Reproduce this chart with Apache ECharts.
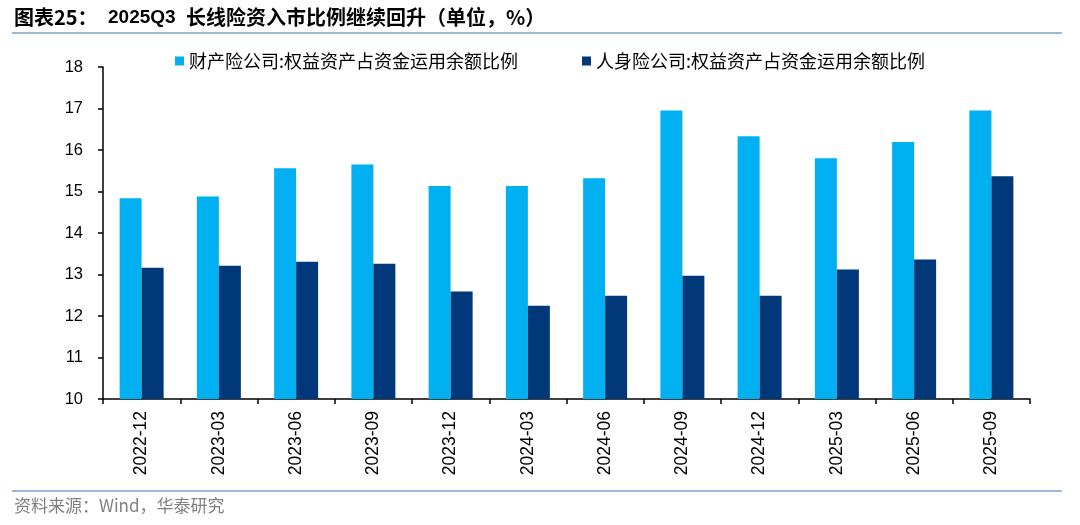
<!DOCTYPE html>
<html><head><meta charset="utf-8">
<script src="https://cdn.jsdelivr.net/npm/echarts@6/dist/echarts.min.js"></script>
<style>html,body{margin:0;padding:0;background:#fff}#c{width:1080px;height:525px}</style>
</head><body><div id="c"></div>
<script>
const categories = ['2022-12','2023-03','2023-06','2023-09','2023-12','2024-03','2024-06','2024-09','2024-12','2025-03','2025-06','2025-09'];
const propertyName = '财产险公司:权益资产占资金运用余额比例';
const lifeName = '人身险公司:权益资产占资金运用余额比例';
const propertyValues = [14.84, 14.88, 15.56, 15.65, 15.13, 15.13, 15.32, 16.95, 16.33, 15.80, 16.19, 16.95];
const lifeValues = [13.16, 13.21, 13.31, 13.26, 12.59, 12.25, 12.49, 12.97, 12.49, 13.12, 13.36, 15.37];
const yTicks = [10, 11, 12, 13, 14, 15, 16, 17, 18];

const chart = echarts.init(document.getElementById('c'));
const cjk = '"Noto Sans CJK SC", sans-serif';
const latin = '"Liberation Sans", Arial, sans-serif';
chart.setOption({
  animation: false,
  backgroundColor: '#fff',
  graphic: [
    {type: 'text', left: 14, top: 7, style: {text: '图表25：', fontFamily: cjk, fontSize: 20, fontWeight: 'bold', fill: '#000'}},
    {type: 'text', left: 108, top: 8, style: {text: '2025Q3', fontFamily: latin, fontSize: 19, fontWeight: 'bold', fill: '#000'}},
    {type: 'text', left: 186, top: 7, style: {text: '长线险资入市比例继续回升（单位，%）', fontFamily: cjk, fontSize: 20, fontWeight: 'bold', fill: '#000'}},
    {type: 'line', shape: {x1: 12, y1: 33, x2: 1062, y2: 33}, style: {stroke: '#9fb6d4', lineWidth: 2}},
    {type: 'line', shape: {x1: 12, y1: 491, x2: 1062, y2: 491}, style: {stroke: '#9fb6d4', lineWidth: 2}},
    {type: 'text', left: 14, top: 497, style: {text: '资料来源：Wind，华泰研究', fontFamily: cjk, fontSize: 17, fill: '#808080'}}
  ],
  legend: [
    {top: 47, left: 170, itemWidth: 9, itemHeight: 9, icon: 'rect',
     textStyle: {fontFamily: cjk, fontSize: 18, color: '#000'}, data: [propertyName]},
    {top: 47, left: 577, itemWidth: 9, itemHeight: 9, icon: 'rect',
     textStyle: {fontFamily: cjk, fontSize: 18, color: '#000'}, data: [lifeName]}
  ],
  grid: {left: 103, right: 50, top: 67, bottom: 126},
  xAxis: {
    type: 'category', data: categories,
    axisLine: {lineStyle: {color: '#000', width: 1.5}},
    axisTick: {show: true, length: 5, lineStyle: {color: '#000', width: 1.5}},
    axisLabel: {rotate: 90, fontSize: 17.5, color: '#000', fontFamily: latin, margin: 12}
  },
  yAxis: {
    type: 'value', min: yTicks[0], max: yTicks[yTicks.length - 1], interval: 1,
    axisLine: {show: true, lineStyle: {color: '#000', width: 1.5}},
    axisTick: {show: true, length: 5, lineStyle: {color: '#000', width: 1.5}},
    splitLine: {show: false},
    axisLabel: {fontSize: 16.5, color: '#000', fontFamily: latin, margin: 20}
  },
  series: [
    {name: propertyName, type: 'bar', data: propertyValues, barWidth: 22, barGap: '0%', itemStyle: {color: '#00b0f0'}},
    {name: lifeName, type: 'bar', data: lifeValues, barWidth: 22, barGap: '0%', itemStyle: {color: '#00387a'}}
  ]
});
</script></body></html>
